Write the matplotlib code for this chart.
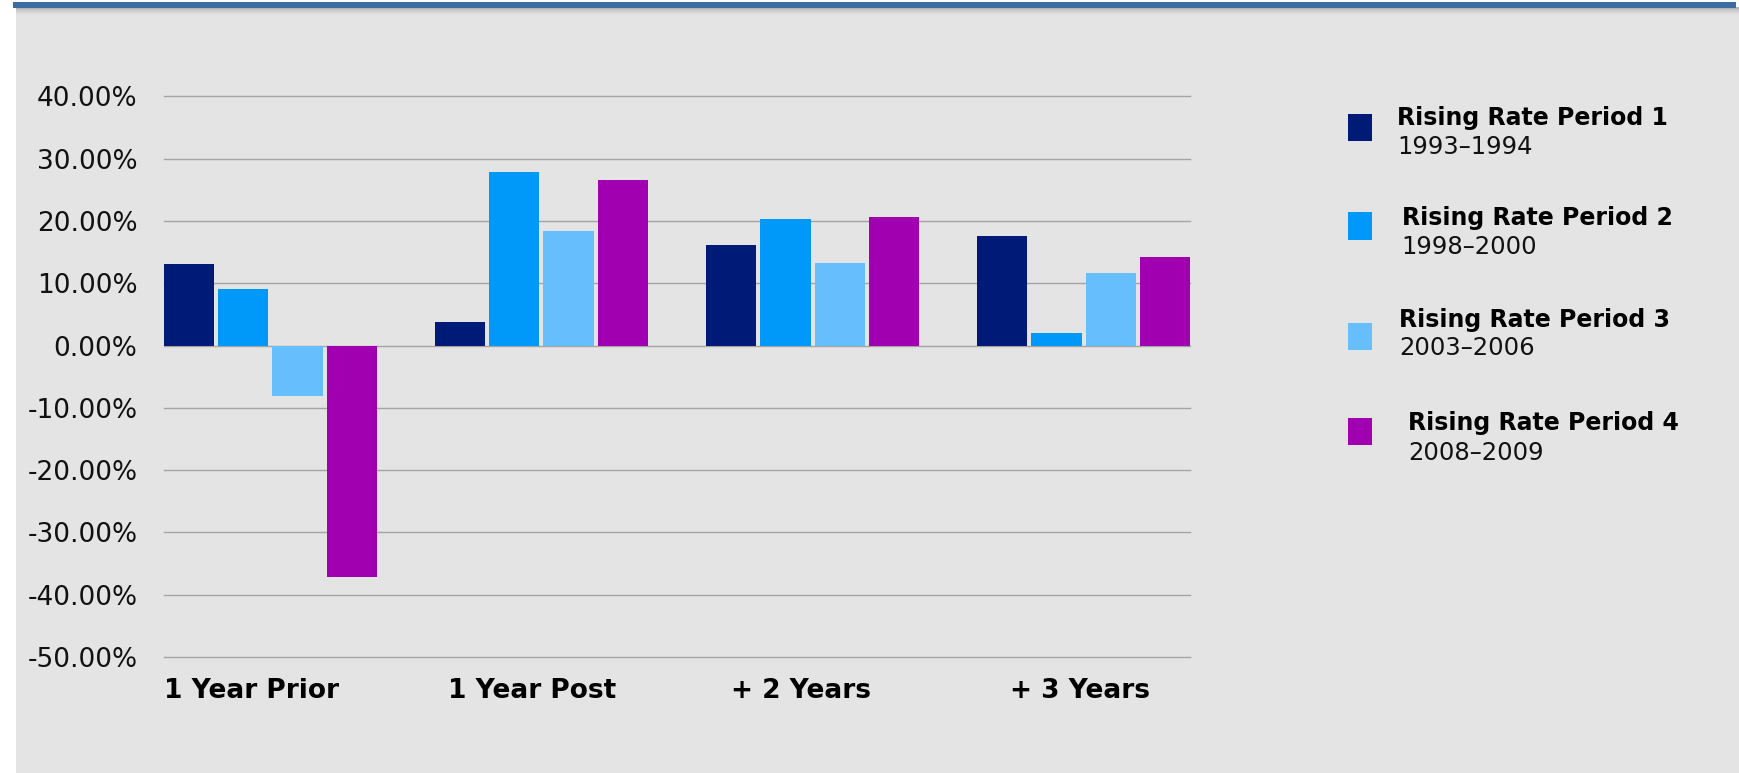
import matplotlib
matplotlib.use("Agg")
import matplotlib.pyplot as plt
from matplotlib.patches import Rectangle
from matplotlib.ticker import FuncFormatter, FixedLocator
import numpy as np

categories = ["1 Year Prior", "1 Year Post", "+ 2 Years", "+ 3 Years"]
series_names = ["Rising Rate Period 1", "Rising Rate Period 2",
                "Rising Rate Period 3", "Rising Rate Period 4"]
series_years = ["1993\u20131994", "1998\u20132000", "2003\u20132006", "2008\u20132009"]
period1 = [13.05, 3.75, 16.1, 17.55]
period2 = [9.1, 27.8, 20.4, 2.1]
period3 = [-8.1, 18.35, 13.25, 11.6]
period4 = [-37.1, 26.55, 20.6, 14.2]
yticks = [40, 30, 20, 10, 0, -10, -20, -30, -40, -50]

colors = ["#001A78", "#0099FA", "#66BEFC", "#A000B0"]

W, H = 1739, 773
fig = plt.figure(figsize=(W / 100, H / 100), dpi=100)
fig.patch.set_facecolor("white")

def px(x0, y0, x1, y1, **kw):
    # rectangle in pixel coords (top-left origin)
    fig.patches.append(Rectangle((x0 / W, 1 - y1 / H), (x1 - x0) / W, (y1 - y0) / H,
                                 transform=fig.transFigure, figure=fig, **kw))

# grey panel
px(16, 7, W, H, facecolor="#E4E4E4", edgecolor="none", zorder=0)
# shadow under the stripe
for i, a in enumerate([0.35, 0.25, 0.16, 0.09, 0.04]):
    px(16, 7 + i * 1.6, 1739, 8.6 + i * 1.6, facecolor="#606060", alpha=a,
       edgecolor="none", zorder=0.5)
# blue stripe
px(13, 1.5, 1736, 7.5, facecolor="#3C6CA2", edgecolor="none", zorder=1)

ax = fig.add_axes([164 / W, 1 - 657 / H, 1026 / W, (657 - 96.5) / H])
ax.set_facecolor("none")
ax.set_zorder(2)

data = [period1, period2, period3, period4]
x = np.arange(len(categories))
step, width = 0.2, 0.185
for i, (vals, c) in enumerate(zip(data, colors)):
    ax.bar(x + (i - 1.5) * step, vals, width=width, color=c, edgecolor="none", zorder=3)

half = 1.5 * step + width / 2
ax.set_xlim(-half, len(categories) - 1 + half)
ax.set_ylim(-50, 40)
ax.yaxis.set_major_locator(FixedLocator(yticks))
ax.yaxis.set_major_formatter(FuncFormatter(lambda v, p: f"{v:.2f}%"))
ax.grid(axis="y", color="#A4A4A4", linewidth=1.0, zorder=1)
ax.set_axisbelow(True)
for gl in ax.get_ygridlines():
    gl.set_clip_on(False)

# category labels, nudged slightly left as in the original layout
label_nudge = np.array([-0.068, -0.033, -0.041, -0.012])
ax.set_xticks(x + label_nudge)
ax.set_xticklabels(categories, fontsize=19, fontweight="bold", color="black")
for s in ax.spines.values():
    s.set_visible(False)
ax.tick_params(axis="y", length=0, pad=19, labelsize=19, labelcolor="#111111")
ax.tick_params(axis="x", length=0, pad=15)

# legend (manual)
sq_centers = [127.5, 226, 336.7, 431.7]
title_pos = [(1397, 118), (1401.5, 217.5), (1399, 320), (1408, 423.3)]
year_pos = [147.3, 246.7, 348.3, 452.7]
for i in range(4):
    cy = sq_centers[i]
    fig.patches.append(Rectangle(((1348) / W, 1 - (cy + 13.5) / H), 24 / W, 27 / H,
                                 transform=fig.transFigure, figure=fig,
                                 facecolor=colors[i], edgecolor="none", zorder=3))
    tx, ty = title_pos[i]
    fig.text(tx / W, 1 - ty / H, series_names[i], fontsize=17, fontweight="bold",
             va="center", ha="left", color="black")
    fig.text(tx / W, 1 - year_pos[i] / H, series_years[i], fontsize=17.5,
             va="center", ha="left", color="#111111")

fig.savefig("out.png", dpi=100, facecolor=fig.get_facecolor())
